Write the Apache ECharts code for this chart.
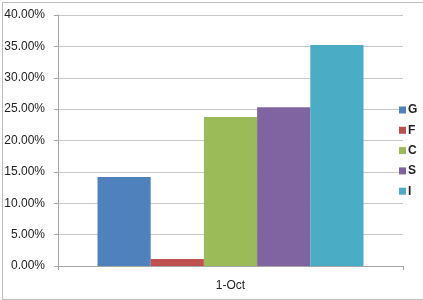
<!DOCTYPE html>
<html><head><meta charset="utf-8">
<script src="https://cdn.jsdelivr.net/npm/echarts@6/dist/echarts.min.js"></script>
<style>html,body{margin:0;padding:0;background:#fff}#c{width:423px;height:300px}</style>
</head><body><div id="c"></div>
<script>
const categories = ['1-Oct'];
const seriesNames = ['G', 'F', 'C', 'S', 'I'];
const G = [0.142];
const F = [0.011];
const C = [0.2375];
const S = [0.253];
const I = [0.352];
const seriesValues = [G, F, C, S, I];
const colors = ['#4F81BD', '#C0504D', '#9BBB59', '#8064A2', '#4BACC6'];

const chart = echarts.init(document.getElementById('c'), null, {renderer: 'canvas'});
const font = 'Liberation Sans, Arial, sans-serif';
chart.setOption({
  animation: false,
  backgroundColor: '#fff',
  color: colors,
  graphic: [{
    type: 'rect', left: 0, top: 0, z: 100, silent: true,
    shape: {x: 0.5, y: 0.5, width: 421, height: 297},
    style: {fill: 'none', stroke: '#bcbcbc', lineWidth: 1}
  }],
  grid: {left: 58, right: 20, top: 15, bottom: 34, containLabel: false},
  legend: {
    orient: 'vertical', left: 394, top: 98,
    itemWidth: 7, itemHeight: 7, itemGap: 6.3,
    icon: 'rect',
    backgroundColor: 'rgba(255,255,255,0)',
    textStyle: {fontFamily: font, fontSize: 12, fontWeight: 'bold', color: '#222', padding: [0,0,0,-3], lineHeight: 14},
    data: seriesNames
  },
  xAxis: {
    type: 'category', data: categories,
    axisLine: {lineStyle: {color: '#a6a6a6', width: 1}},
    axisTick: {show: true, length: 4, lineStyle: {color: '#a6a6a6'}},
    axisLabel: {fontFamily: font, fontSize: 12, color: '#222', margin: 14}
  },
  yAxis: {
    type: 'value', min: 0, max: 0.4, interval: 0.05,
    axisLine: {show: true, lineStyle: {color: '#a6a6a6', width: 1}},
    axisTick: {show: true, length: 4, lineStyle: {color: '#a6a6a6'}},
    splitLine: {lineStyle: {color: '#c8c8c8', width: 1}},
    axisLabel: {fontFamily: font, fontSize: 12, color: '#222', margin: 13,
      formatter: v => (v * 100).toFixed(2) + '%'}
  },
  series: seriesNames.map((n, i) => ({
    name: n, type: 'bar', data: seriesValues[i],
    barGap: '0%', barCategoryGap: '22.9%'
  }))
});
</script></body></html>
